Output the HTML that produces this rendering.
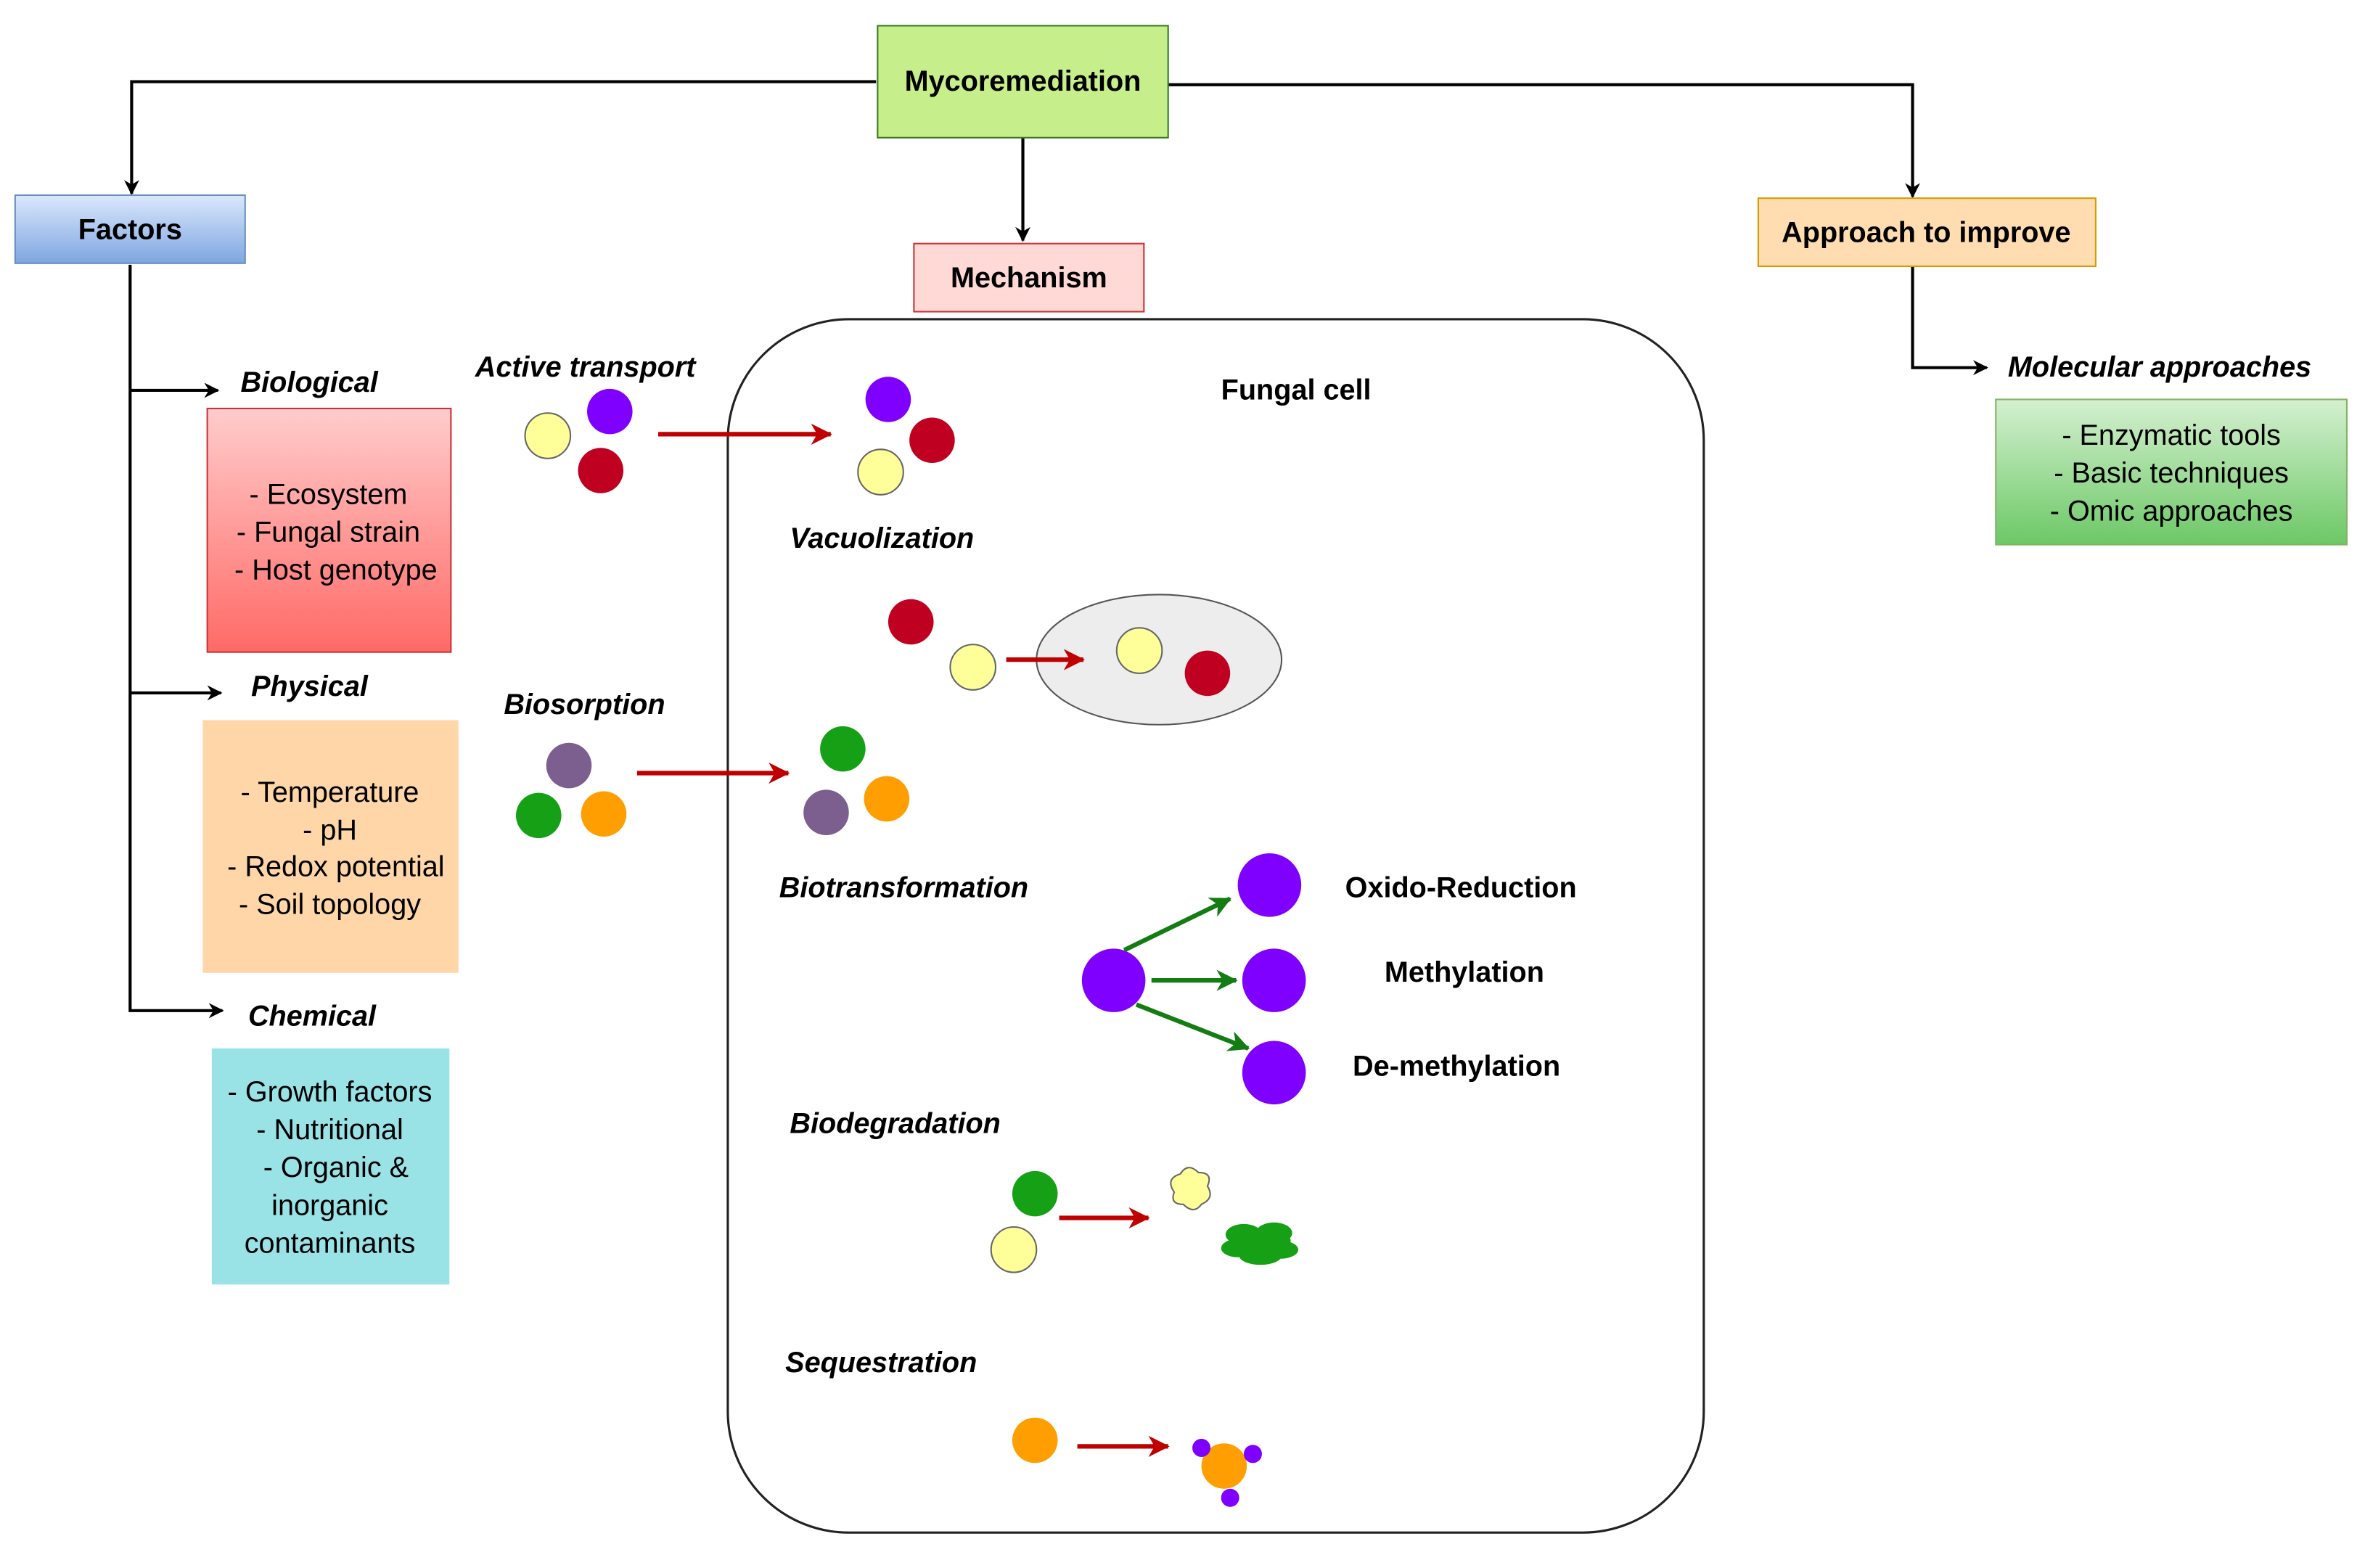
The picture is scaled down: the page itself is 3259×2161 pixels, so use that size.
<!DOCTYPE html>
<html><head><meta charset="utf-8"><style>html,body{margin:0;padding:0;background:#fff}svg{display:block}</style></head><body>
<svg width="3259" height="2161" viewBox="0 0 1563 1036.4" preserveAspectRatio="none" xmlns="http://www.w3.org/2000/svg" font-family="Liberation Sans, Arial, sans-serif">
<defs>
<linearGradient id="gb" x1="0" y1="0" x2="0" y2="1"><stop offset="0" stop-color="#dae8fc"/><stop offset="1" stop-color="#7ea6e0"/></linearGradient>
<linearGradient id="gr" x1="0" y1="0" x2="0" y2="1"><stop offset="0" stop-color="#ffcccc"/><stop offset="1" stop-color="#ff6a66"/></linearGradient>
<linearGradient id="gg" x1="0" y1="0" x2="0" y2="1"><stop offset="0" stop-color="#d5f0d0"/><stop offset="1" stop-color="#6cc866"/></linearGradient>
<marker id="ak" markerWidth="10" markerHeight="10" refX="9" refY="5" orient="auto" markerUnits="userSpaceOnUse"><path d="M0,0 L10,5 L0,10 L3,5z" fill="#000"/></marker>
<marker id="ar" markerWidth="14" markerHeight="14" refX="13" refY="7" orient="auto" markerUnits="userSpaceOnUse"><path d="M0,0 L14,7 L0,14 L4,7z" fill="#c00000"/></marker>
<marker id="ag" markerWidth="14" markerHeight="14" refX="13" refY="7" orient="auto" markerUnits="userSpaceOnUse"><path d="M0,0 L14,7 L0,14 L4,7z" fill="#137c13"/></marker>
</defs>
<g stroke="#000" stroke-width="2" fill="none">
<path d="M579,54 H87 V128" marker-end="url(#ak)"/>
<path d="M772,56 H1264 V130" marker-end="url(#ak)"/>
<path d="M676,91 V159" marker-end="url(#ak)"/>
<path d="M86,175 V668 H147" marker-end="url(#ak)"/>
<path d="M86,258 H144" marker-end="url(#ak)"/>
<path d="M86,458 H146" marker-end="url(#ak)"/>
<path d="M1264,176 V243 H1313" marker-end="url(#ak)"/>
</g>
<rect x="580" y="17" width="192" height="74" fill="#c6ef8b" stroke="#3a7a20" stroke-width="1"/>
<text x="676" y="60" text-anchor="middle" font-weight="bold" font-size="19">Mycoremediation</text>
<rect x="10" y="129" width="152" height="45" fill="url(#gb)" stroke="#6c8ebf"/>
<text x="86" y="158" text-anchor="middle" font-weight="bold" font-size="19">Factors</text>
<rect x="604" y="161" width="152" height="45" fill="#ffd9d6" stroke="#c33"/>
<text x="680" y="190" text-anchor="middle" font-weight="bold" font-size="19">Mechanism</text>
<rect x="1162" y="131" width="223" height="45" fill="#ffddb0" stroke="#d79b00"/>
<text x="1273" y="160" text-anchor="middle" font-weight="bold" font-size="19">Approach to improve</text>
<rect x="1319" y="264" width="232" height="96" fill="url(#gg)" stroke="#82b366"/>
<g font-size="19" text-anchor="middle"><text x="1435" y="294">- Enzymatic tools</text><text x="1435" y="319">- Basic techniques</text><text x="1435" y="344">- Omic approaches</text></g>
<rect x="137" y="270" width="161" height="161" fill="url(#gr)" stroke="#c33"/>
<g font-size="19" text-anchor="middle"><text x="217" y="333">- Ecosystem</text><text x="217" y="358">- Fungal strain</text><text x="222" y="383">- Host genotype</text></g>
<rect x="134" y="476" width="169" height="167" fill="#ffd6a8"/>
<g font-size="19" text-anchor="middle"><text x="218" y="530">- Temperature</text><text x="218" y="555">- pH</text><text x="222" y="579">- Redox potential</text><text x="218" y="604">- Soil topology</text></g>
<rect x="140" y="693" width="157" height="156" fill="#99e2e6"/>
<g font-size="19" text-anchor="middle"><text x="218" y="728">- Growth factors</text><text x="218" y="753">- Nutritional</text><text x="222" y="778">- Organic &amp;</text><text x="218" y="803">inorganic</text><text x="218" y="828">contaminants</text></g>
<g font-size="19" font-weight="bold" font-style="italic">
<text x="159" y="259">Biological</text><text x="166" y="460">Physical</text><text x="164" y="678">Chemical</text>
<text x="314" y="249">Active transport</text><text x="333" y="472">Biosorption</text>
<text x="1327" y="249">Molecular approaches</text>
<text x="522" y="362">Vacuolization</text><text x="515" y="593">Biotransformation</text><text x="522" y="749">Biodegradation</text><text x="519" y="907">Sequestration</text>
</g>
<rect x="481" y="211" width="645" height="802" rx="80" fill="none" stroke="#222" stroke-width="1.5"/>
<g font-size="19" font-weight="bold"><text x="807" y="264">Fungal cell</text><text x="889" y="593">Oxido-Reduction</text><text x="915" y="649">Methylation</text><text x="894" y="711">De-methylation</text></g>
<g stroke-width="1">
<circle cx="362" cy="288" r="15" fill="#ffff99" stroke="#666"/><circle cx="403" cy="272" r="15" fill="#7f00ff"/><circle cx="397" cy="311" r="15" fill="#c00020"/>
<circle cx="587" cy="264" r="15" fill="#7f00ff"/><circle cx="616" cy="291" r="15" fill="#c00020"/><circle cx="582" cy="312" r="15" fill="#ffff99" stroke="#666"/>
<ellipse cx="766" cy="436" rx="81" ry="43" fill="#ededed" stroke="#555"/>
<circle cx="602" cy="411" r="15" fill="#c00020"/><circle cx="643" cy="441" r="15" fill="#ffff99" stroke="#666"/>
<circle cx="753" cy="430" r="15" fill="#ffff99" stroke="#666"/><circle cx="798" cy="445" r="15" fill="#c00020"/>
<circle cx="376" cy="506" r="15" fill="#7d5f8f"/><circle cx="356" cy="539" r="15" fill="#16a016"/><circle cx="399" cy="538" r="15" fill="#ff9e00"/>
<circle cx="557" cy="495" r="15" fill="#16a016"/><circle cx="586" cy="528" r="15" fill="#ff9e00"/><circle cx="546" cy="537" r="15" fill="#7d5f8f"/>
<circle cx="736" cy="648" r="21" fill="#7f00ff"/><circle cx="839" cy="585" r="21" fill="#7f00ff"/><circle cx="842" cy="648" r="21" fill="#7f00ff"/><circle cx="842" cy="709" r="21" fill="#7f00ff"/>
<circle cx="684" cy="789" r="15" fill="#16a016"/><circle cx="670" cy="826" r="15" fill="#ffff99" stroke="#666"/>
<path d="M776,788 q-6,-9 4,-12 q5,-8 12,-1 q10,0 6,9 q5,8 -4,12 q-5,7 -12,0 q-9,0 -6,-8z" fill="#ffff99" stroke="#666"/>
<g fill="#16a016"><ellipse cx="822" cy="816" rx="12" ry="7"/><ellipse cx="842" cy="815" rx="12" ry="7"/><ellipse cx="818" cy="825" rx="11" ry="6"/><ellipse cx="846" cy="826" rx="12" ry="6"/><ellipse cx="833" cy="830" rx="14" ry="6"/><ellipse cx="833" cy="820" rx="20" ry="8"/></g>
<circle cx="684" cy="952" r="15" fill="#ff9e00"/>
<circle cx="809" cy="969" r="15" fill="#ff9e00"/><circle cx="794" cy="957" r="6" fill="#7f00ff"/><circle cx="828" cy="961" r="6" fill="#7f00ff"/><circle cx="813" cy="990" r="6" fill="#7f00ff"/>
</g>
<g stroke="#c00000" stroke-width="3" fill="none">
<path d="M435,287 H549" marker-end="url(#ar)"/><path d="M665,436 H716" marker-end="url(#ar)"/>
<path d="M421,511 H521" marker-end="url(#ar)"/><path d="M700,805 H759" marker-end="url(#ar)"/><path d="M712,956 H772" marker-end="url(#ar)"/>
</g>
<g stroke="#137c13" stroke-width="3" fill="none">
<path d="M743,628 L813,594" marker-end="url(#ag)"/><path d="M761,648 L817,648" marker-end="url(#ag)"/><path d="M751,664 L825,693" marker-end="url(#ag)"/>
</g>
</svg>
</body></html>
